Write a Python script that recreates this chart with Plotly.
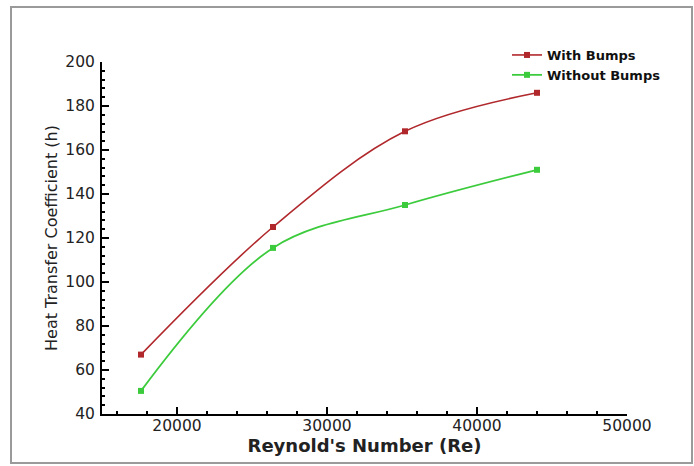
import plotly.graph_objects as go

reynolds = [17600, 26400, 35200, 44000]
with_bumps = [67, 125, 168.5, 186]
without_bumps = [50.5, 115.5, 135, 151]

x_ticks = [20000, 30000, 40000, 50000]
y_ticks = [40, 60, 80, 100, 120, 140, 160, 180, 200]

RED = "#b0282c"
GREEN = "#3ccb3c"

fig = go.Figure()
fig.add_trace(go.Scatter(
    x=reynolds, y=with_bumps, name="With Bumps", mode="lines+markers",
    line=dict(color=RED, width=1.6, shape="spline", smoothing=1.0),
    marker=dict(symbol="square", size=6, color=RED),
))
fig.add_trace(go.Scatter(
    x=reynolds, y=without_bumps, name="Without Bumps", mode="lines+markers",
    line=dict(color=GREEN, width=1.8, shape="spline", smoothing=1.0),
    marker=dict(symbol="square", size=6, color=GREEN),
))

L, R, T, B = 102, 67, 62, 52
W, H = 694, 466
pw, ph = W - L - R, H - T - B

def px_x(p):
    return (p - L) / pw

def px_y(p):
    return (H - B - p) / ph

fig.add_shape(type="rect", xref="paper", yref="paper",
              x0=px_x(11), x1=px_x(692), y0=px_y(463), y1=px_y(7),
              line=dict(color="#9a9a9a", width=2), layer="below")

tick_font = dict(family="DejaVu Sans", size=15.5, color="#222222")

fig.update_layout(
    width=W, height=H,
    margin=dict(l=L, r=R, t=T, b=B, autoexpand=False),
    paper_bgcolor="white", plot_bgcolor="white",
    showlegend=True,
    legend=dict(
        x=px_x(507), y=px_y(40), xanchor="left", yanchor="top",
        font=dict(family="DejaVu Sans", size=13, color="#111111", weight="bold"),
        bgcolor="rgba(0,0,0,0)", tracegroupgap=0,
    ),
    xaxis=dict(
        range=[15000, 50000], tickvals=x_ticks, ticktext=[str(v) for v in x_ticks],
        ticks="inside", ticklen=7, tickwidth=1.5, tickcolor="black",
        showline=True, linecolor="black", linewidth=2, mirror=False,
        showgrid=False, zeroline=False, tickfont=tick_font, ticklabelstandoff=-4,
        minor=dict(dtick=2000, ticks="inside", ticklen=3, tickcolor="black", showgrid=False),
        title=dict(text="Reynold's Number (Re)", standoff=0,
                   font=dict(family="DejaVu Sans", size=18, color="#222222", weight="bold")),
        automargin=False,
    ),
    yaxis=dict(
        range=[40, 200], tickvals=y_ticks, ticktext=[str(v) for v in y_ticks],
        ticks="inside", ticklen=7, tickwidth=1.5, tickcolor="black",
        showline=True, linecolor="black", linewidth=2, mirror=False,
        showgrid=False, zeroline=False, tickfont=tick_font, ticklabelstandoff=2,
        minor=dict(dtick=4, ticks="inside", ticklen=3, tickcolor="black", showgrid=False),
        title=dict(text="Heat Transfer Coefficient (h)", standoff=4,
                   font=dict(family="DejaVu Sans", size=16, color="#222222")),
        automargin=False,
    ),
)

fig.write_html("out.html", config={"displayModeBar": False},
               post_script="document.body.style.margin='0px';")
